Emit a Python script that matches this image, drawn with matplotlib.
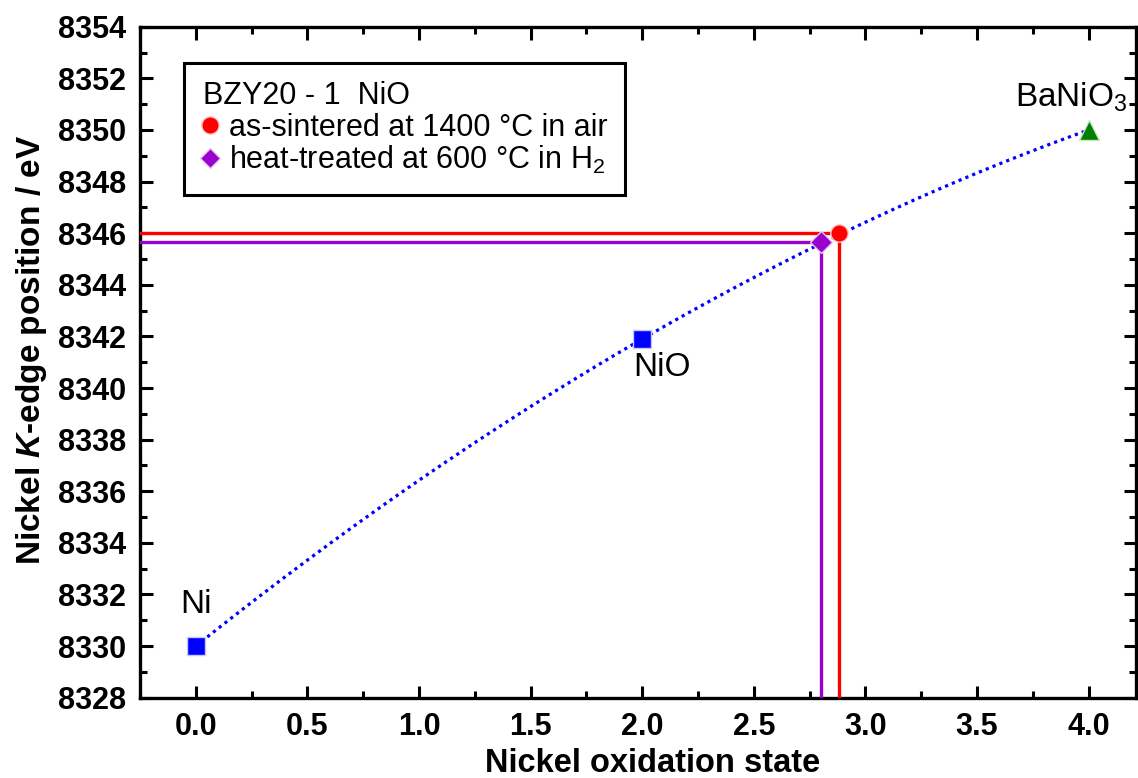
import numpy as np
import matplotlib
matplotlib.use("Agg")
import matplotlib.pyplot as plt
from matplotlib.ticker import MultipleLocator, FormatStrFormatter
from matplotlib.lines import Line2D

plt.rcParams['font.family'] = ['Liberation Sans', 'DejaVu Sans']
plt.rcParams['mathtext.fontset'] = 'custom'
plt.rcParams['mathtext.rm'] = 'Liberation Sans'
plt.rcParams['mathtext.it'] = 'Liberation Sans:italic:bold'
plt.rcParams['mathtext.bf'] = 'Liberation Sans:bold'

# reference compounds
ref_names = ["Ni", "NiO", "BaNiO$_3$"]
ref_ox = [0.0, 2.0, 4.0]
ref_edge = [8330.0, 8341.9, 8350.0]

# samples
air_ox, air_edge = 2.88, 8346.0
h2_ox, h2_edge = 2.80, 8345.64

# calibration curve (quadratic fit of the references)
coef = np.polyfit(ref_ox, ref_edge, 2)
xf = np.linspace(0, 4, 200)
yf = np.polyval(coef, xf)

fig = plt.figure(figsize=(11.38, 7.78), dpi=100)
ax = fig.add_axes([140/1138, 1-697.7/778, (1136-140)/1138, (697.7-26.7)/778])

xmin, xmax = -0.25, 4.212
ymin, ymax = 8328, 8354

ax.plot(xf, yf, color='#0000ff', lw=2.3, linestyle=(0, (1, 1.3)), zorder=2)

# guide lines to the axes
ax.plot([xmin, air_ox, air_ox], [air_edge, air_edge, ymin], color='#ff0000', lw=2.4, zorder=3)
ax.plot([xmin, h2_ox, h2_ox], [h2_edge, h2_edge, ymin], color='#9900cc', lw=2.4, zorder=3)

ax.plot(ref_ox[:2], ref_edge[:2], 's', color='#0000ff', ms=12.5, mec='#c8c8ff', mew=1, ls='none', zorder=4)
ax.plot(ref_ox[2], ref_edge[2], '^', color='#008000', ms=14, mec='#c8e6c8', mew=1, zorder=4)
ax.plot(air_ox, air_edge, 'o', color='#ff0000', ms=12.5, mec='#ffc8c8', mew=1, zorder=5)
ax.plot(h2_ox, h2_edge, 'D', color='#9900cc', ms=11, mec='#e6c8f0', mew=1, zorder=5)

ax.text(0.0, 8331.6, ref_names[0], fontsize=24, ha='center', va='center')
ax.text(2.09, 8340.8, ref_names[1], fontsize=24, ha='center', va='center')
ax.text(3.92, 8351.25, ref_names[2], fontsize=24, ha='center', va='center')

ax.set_xlim(xmin, xmax)
ax.set_ylim(ymin, ymax)
ax.xaxis.set_major_locator(MultipleLocator(0.5))
ax.xaxis.set_minor_locator(MultipleLocator(0.25))
ax.yaxis.set_major_locator(MultipleLocator(2))
ax.yaxis.set_minor_locator(MultipleLocator(1))
ax.xaxis.set_major_formatter(FormatStrFormatter('%.1f'))
ax.yaxis.set_major_formatter(FormatStrFormatter('%d'))
ax.tick_params(which='both', direction='in', top=True, right=True, width=2.2)
ax.tick_params(which='major', length=9, labelsize=22, pad=10)
ax.tick_params(which='minor', length=5)
for lab in ax.get_xticklabels() + ax.get_yticklabels():
    lab.set_fontweight('bold')
for sp in ax.spines.values():
    sp.set_linewidth(2.4)

ax.set_xlabel("Nickel oxidation state", fontsize=23.5, fontweight='bold')
ax.set_ylabel("Nickel $K$-edge position / eV", fontsize=24, fontweight='bold')
ax.xaxis.set_label_coords(0.515, -0.075)
ax.yaxis.set_label_coords(-0.091, 0.518)

handles = [
    Line2D([], [], marker='o', color='#ff0000', ls='none', ms=12.5, mec='#ffc8c8'),
    Line2D([], [], marker='D', color='#9900cc', ls='none', ms=10.5, mec='#e6c8f0'),
]
labels = ["as-sintered at 1400 \u00b0C in air", "heat-treated at 600 \u00b0C in H$_2$"]
leg = ax.legend(handles, labels, title="BZY20 - 1  NiO", loc='upper left',
                bbox_to_anchor=(0.0444, 0.9463), borderaxespad=0, fontsize=22,
                title_fontsize=22, alignment='left', fancybox=False, framealpha=1,
                edgecolor='black', handlelength=0.5, handletextpad=0.35,
                labelspacing=0.05, borderpad=0.6)
leg.get_frame().set_linewidth(2.2)

fig.savefig("out.png", dpi=100)
